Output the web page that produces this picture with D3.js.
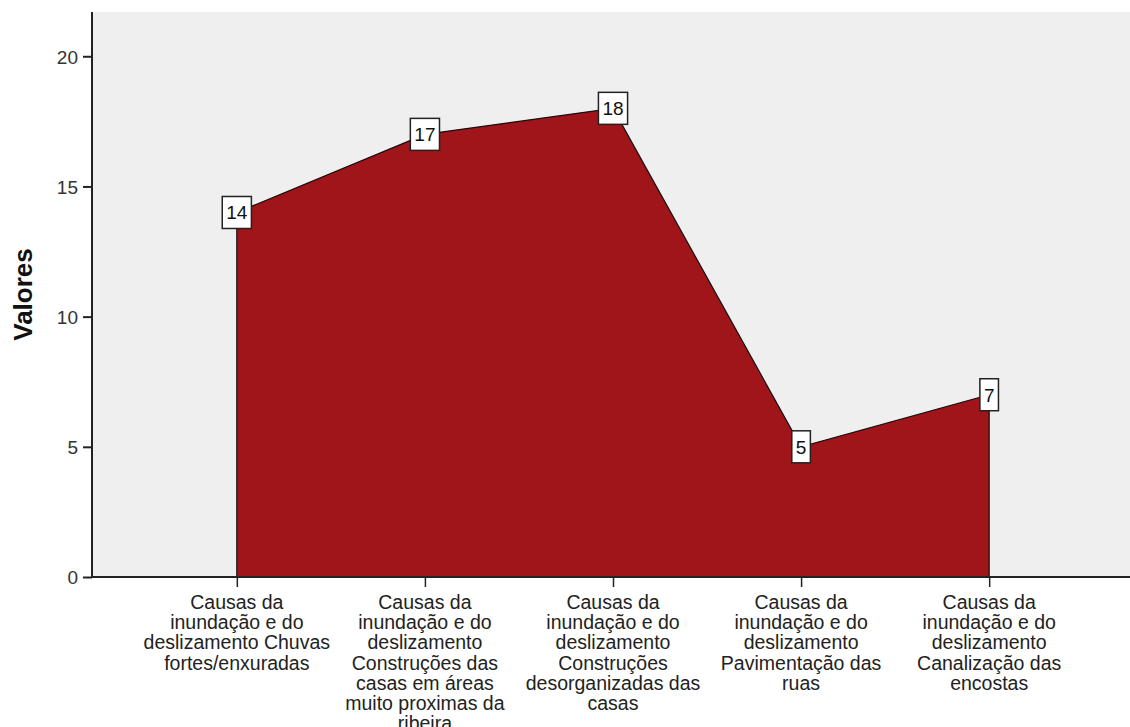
<!DOCTYPE html>
<html>
<head>
<meta charset="utf-8">
<script src="https://cdn.jsdelivr.net/npm/d3@7"></script>
<style>
  html, body { margin: 0; padding: 0; background: #fff; }
  svg text { font-family: "Liberation Sans", Arial, sans-serif; }
</style>
</head>
<body>
<div id="plot"></div>
<script>
// category labels, already broken into lines as in the picture
const categories = [
  ['Causas da', 'inundação e do', 'deslizamento Chuvas', 'fortes/enxuradas'],
  ['Causas da', 'inundação e do', 'deslizamento', 'Construções das', 'casas em áreas', 'muito proximas da', 'ribeira'],
  ['Causas da', 'inundação e do', 'deslizamento', 'Construções', 'desorganizadas das', 'casas'],
  ['Causas da', 'inundação e do', 'deslizamento', 'Pavimentação das', 'ruas'],
  ['Causas da', 'inundação e do', 'deslizamento', 'Canalização das', 'encostas']
];
const values = [14, 17, 18, 5, 7];
const yTicks = [0, 5, 10, 15, 20];
const yMax = 21.7;

const W = 1130, H = 727;
const margin = { top: 12, left: 92, bottom: 150 };
const plotBottom = H - margin.bottom; // 577

const data = categories.map((lines, i) => ({ key: 'c' + i, lines, value: values[i] }));

const svg = d3.select('#plot').append('svg')
  .attr('width', W)
  .attr('height', H);

const x = d3.scalePoint()
  .domain(data.map(d => d.key))
  .range([margin.left, W + 4])
  .padding(0.77);

const y = d3.scaleLinear()
  .domain([0, yMax])
  .range([plotBottom, margin.top]);

// plot background
svg.append('rect')
  .attr('x', margin.left)
  .attr('y', margin.top)
  .attr('width', W - margin.left)
  .attr('height', plotBottom - margin.top)
  .attr('fill', '#efefef');

// area
const area = d3.area()
  .x(d => x(d.key))
  .y0(y(0))
  .y1(d => y(d.value));

svg.append('path')
  .datum(data)
  .attr('d', area)
  .attr('fill', '#9f1519')
  .attr('stroke', '#111')
  .attr('stroke-width', 1.2)
  .attr('stroke-linejoin', 'miter');

// y axis
const yAxis = svg.append('g')
  .attr('transform', `translate(${margin.left},0)`)
  .call(d3.axisLeft(y).tickValues(yTicks).tickSize(9).tickPadding(5).tickSizeOuter(0));
yAxis.select('.domain').attr('stroke', '#222').attr('stroke-width', 2)
  .attr('d', `M0,${margin.top}V${plotBottom}`);
yAxis.selectAll('.tick line').attr('stroke', '#222').attr('stroke-width', 2);
yAxis.selectAll('.tick text')
  .style('font-size', '19px')
  .style('font-family', '"Liberation Sans", Arial, sans-serif')
  .attr('fill', '#333')
  .attr('dy', '0.36em');

// x axis
const xAxis = svg.append('g')
  .attr('transform', `translate(0,${plotBottom})`)
  .call(d3.axisBottom(x).tickSize(10).tickSizeOuter(0).tickFormat(''));
xAxis.select('.domain').attr('stroke', '#222').attr('stroke-width', 2)
  .attr('d', `M${margin.left},0H${W}`);
xAxis.selectAll('.tick line').attr('stroke', '#222').attr('stroke-width', 1.5);

// multi-line category labels
const catLabels = svg.append('g').selectAll('text.cat')
  .data(data)
  .enter()
  .append('text')
  .attr('class', 'cat')
  .attr('text-anchor', 'middle')
  .attr('fill', '#222')
  .style('font-size', '19.5px');

catLabels.selectAll('tspan')
  .data(d => d.lines.map(l => ({ l, key: d.key })))
  .enter()
  .append('tspan')
  .attr('x', d => x(d.key))
  .attr('y', (d, i) => plotBottom + 32 + i * 20.2)
  .text(d => d.l);

// value label boxes
const vl = svg.append('g').selectAll('g.vl')
  .data(data)
  .enter()
  .append('g')
  .attr('class', 'vl')
  .attr('transform', d => `translate(${x(d.key)},${y(d.value)})`);

const vlRect = vl.append('rect')
  .attr('fill', '#fff')
  .attr('stroke', '#222')
  .attr('stroke-width', 1.5);

const vlText = vl.append('text')
  .attr('text-anchor', 'middle')
  .attr('dy', '0.36em')
  .attr('fill', '#111')
  .style('font-size', '19px')
  .text(d => d.value);

vlText.each(function (d) {
  d.tw = this.getComputedTextLength();
});
vlRect
  .attr('x', d => -d.tw / 2 - 4)
  .attr('y', -16)
  .attr('width', d => d.tw + 8)
  .attr('height', 32);

// y axis title
svg.append('text')
  .attr('transform', `translate(32,${(margin.top + plotBottom) / 2}) rotate(-90)`)
  .attr('text-anchor', 'middle')
  .attr('fill', '#111')
  .style('font-size', '26px')
  .style('font-weight', 'bold')
  .text('Valores');
</script>
</body>
</html>
